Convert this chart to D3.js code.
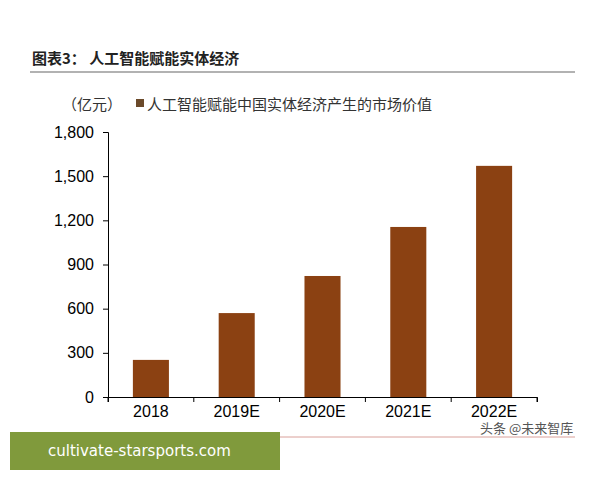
<!DOCTYPE html>
<html><head><meta charset="utf-8">
<script src="https://cdn.jsdelivr.net/npm/d3@7"></script>
<style>body{margin:0;background:#fff}svg{display:block}</style>
</head><body><svg width="600" height="480"></svg>
<script>
const years = ["2018", "2019E", "2020E", "2021E", "2022E"];
const values = [252, 570, 822, 1155, 1570];
const ticks = [0, 300, 600, 900, 1200, 1500, 1800];

const svg = d3.select("svg");
const cjk = "'Noto Sans CJK SC', sans-serif";

svg.append("text").attr("x", 32).attr("y", 64).attr("font-family", cjk)
  .attr("font-weight", "bold").attr("font-size", 15).attr("fill", "#222")
  .text("图表3：  人工智能赋能实体经济");
svg.append("line").attr("x1", 30).attr("x2", 575).attr("y1", 72).attr("y2", 72)
  .attr("stroke", "#999").attr("stroke-width", 1.5);

svg.append("text").attr("x", 62).attr("y", 110).attr("font-family", cjk)
  .attr("font-size", 15).attr("fill", "#333").text("（亿元）");
svg.append("rect").attr("x", 136).attr("y", 99).attr("width", 8).attr("height", 8).attr("fill", "#6b4a2a");
svg.append("text").attr("x", 147).attr("y", 110).attr("font-family", cjk)
  .attr("font-size", 15).attr("fill", "#333").text("人工智能赋能中国实体经济产生的市场价值");

const x = d3.scaleBand().domain(years).range([108, 537]).paddingInner(0.58).paddingOuter(0.29);
const y = d3.scaleLinear().domain([0, 1800]).range([397, 132]);

svg.append("g").selectAll("rect").data(values).join("rect")
  .attr("x", (d, i) => x(years[i])).attr("width", x.bandwidth())
  .attr("y", d => y(d)).attr("height", d => y(0) - y(d)).attr("fill", "#8b4112");

const yAxis = svg.append("g").attr("transform", "translate(108,0)")
  .call(d3.axisLeft(y).tickValues(ticks).tickFormat(d3.format(",")).tickSize(5));
yAxis.selectAll("text").attr("font-family", "Arial, 'Liberation Sans'").attr("font-size", 16).attr("fill", "#000").attr("dx", -6);
const xAxis = svg.append("g").attr("transform", "translate(0,397)")
  .call(d3.axisBottom(x).tickSize(5));
xAxis.selectAll("text").attr("font-family", "Arial, 'Liberation Sans'").attr("font-size", 16).attr("fill", "#000").attr("dy", 12);
xAxis.selectAll(".tick line").remove();
svg.selectAll(".domain").attr("stroke", "#000");
// category boundary ticks
const step = x.step();
svg.append("g").selectAll("line").data(d3.range(6)).join("line")
  .attr("x1", i => 108 + i * (429 / 5)).attr("x2", i => 108 + i * (429 / 5))
  .attr("y1", 397).attr("y2", 402).attr("stroke", "#000");

svg.append("text").attr("x", 480).attr("y", 433).attr("font-family", cjk)
  .attr("font-size", 13).attr("fill", "#555").text("头条 @未来智库");
svg.append("line").attr("x1", 30).attr("x2", 575).attr("y1", 437).attr("y2", 437)
  .attr("stroke", "#d9a09a").attr("stroke-width", 1);

svg.append("rect").attr("x", 10).attr("y", 432).attr("width", 270).attr("height", 38).attr("fill", "#809a3c");
svg.append("text").attr("x", 48).attr("y", 456).attr("font-family", "'DejaVu Sans', sans-serif")
  .attr("font-size", 15).attr("fill", "#fff").text("cultivate-starsports.com");
</script></body></html>
